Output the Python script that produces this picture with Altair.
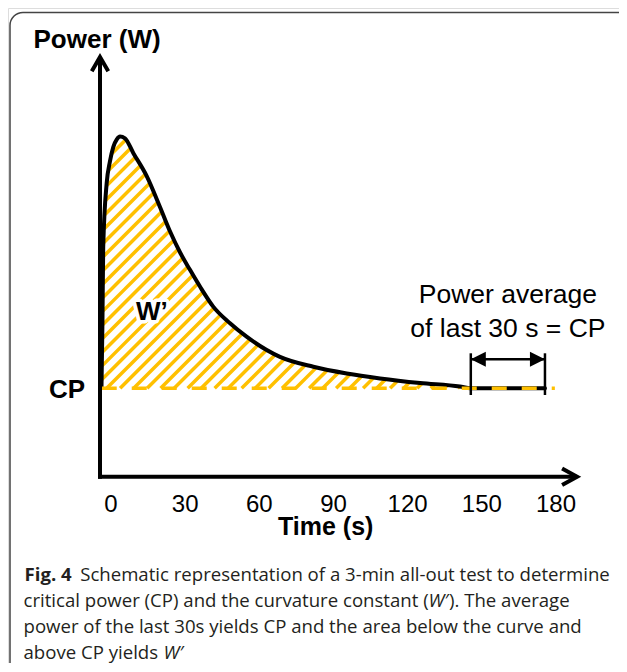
import altair as alt
import numpy as np
import pandas as pd

# ---------------- values ----------------
time_s = [0.6, 1.0, 1.3, 2.7, 4.0, 5.4, 6.8, 8.1, 10.1, 13.5, 18.9, 24.3, 28.3,
          32.4, 36.4, 40.5, 45.8, 52.6, 59.3, 72.8, 86.3, 99.8, 113.3, 129.5,
          145.6, 150.0, 165.0, 180.0]
power_w = [250, 443, 650, 830, 891, 933, 954, 962, 957, 915, 850, 762, 694,
           634, 585, 537, 481, 434, 396, 339, 311, 292, 278, 265,
           255, 250, 250, 250]
cp_w = 250
tick_s = [0, 30, 60, 90, 120, 150, 180]
window_s = [150, 180]

caption_lines = [
    "Schematic representation of a 3-min all-out test to determine",
    "critical power (CP) and the curvature constant (",
    "). The average",
    "power of the last 30s yields CP and the area below the curve and",
    "above CP yields ",
]

# ---------------- layout ----------------
W, H = 611, 655
PX_PER_S = 2.472
X0 = 92.0            # pixel of t = 0
W_PER_PX = 2.828
Y0 = 468.7           # pixel of P = 0
x_dom = [-X0 / PX_PER_S, (W - X0) / PX_PER_S]
y_dom = [(Y0 - H) * W_PER_PX, Y0 * W_PER_PX]
xs = alt.Scale(domain=x_dom, nice=False, zero=False)
ys = alt.Scale(domain=y_dom, nice=False, zero=False)

ORANGE = "#FFC000"
SANS = "Liberation Sans"
CAP_FONT = "Open Sans"
CAP_COL = "#231f20"
CAP_SIZE = 18.6

def X(f):
    return alt.X(f, type="quantitative", scale=xs, axis=None)

def Y(f):
    return alt.Y(f, type="quantitative", scale=ys, axis=None)

# ---------------- hatch segments (45 deg) clipped to the W' region ----------------
m = PX_PER_S * W_PER_PX
spacing = 13.5 / PX_PER_S
tt = np.arange(0, 181, 0.01)
ff = np.interp(tt, time_s, power_w)
segs = []
for c in np.arange(-112, 150, spacing):
    L = cp_w + m * (tt - c)
    inside = np.where((L >= cp_w) & (L <= ff))[0]
    if len(inside) < 2:
        continue
    br = np.where(np.diff(inside) > 1)[0]
    a = inside[0]
    b = inside[br[0]] if len(br) else inside[-1]
    segs.append({"t1": float(tt[a]), "p1": float(L[a]),
                 "t2": float(tt[b]), "p2": float(L[b])})
hatch_df = pd.DataFrame(segs)

curve_df = pd.DataFrame({"t": time_s, "p": power_w})

# ---------------- layers ----------------
one = pd.DataFrame({"k": [0]})

border = alt.Chart(one).mark_rect(
    filled=False, cornerRadius=13, stroke="#444", strokeWidth=1.5
).encode(x=alt.value(2), x2=alt.value(660), y=alt.value(4.5), y2=alt.value(700))

hatch = alt.Chart(hatch_df).mark_rule(color=ORANGE, strokeWidth=3.5).encode(
    x=X("t1"), y=Y("p1"), x2="t2", y2="p2")

curve = alt.Chart(curve_df).mark_line(
    color="black", strokeWidth=4, interpolate="monotone",
    strokeCap="round", strokeJoin="round").encode(x=X("t"), y=Y("p"))

cp_line = alt.Chart(pd.DataFrame({"t": [0.7], "t2": [184.0], "p": [cp_w]})).mark_rule(
    color=ORANGE, strokeWidth=3.5, strokeDash=[15, 15]).encode(
    x=X("t"), x2="t2", y=Y("p"))

x_axis = alt.Chart(pd.DataFrame({"t": [-0.8], "t2": [193.0], "p": [0]})).mark_rule(
    color="black", strokeWidth=4).encode(x=X("t"), x2="t2", y=Y("p"))
y_axis = alt.Chart(pd.DataFrame({"t": [0], "p": [-5.7], "p2": [1187]})).mark_rule(
    color="black", strokeWidth=4).encode(x=X("t"), y=Y("p"), y2="p2")

y_arrow = alt.Chart(pd.DataFrame({"t": [0], "p": [1187]})).mark_point(
    shape="M-0.55,0.95L0,0L0.55,0.95", size=900, filled=False,
    color="black", strokeWidth=4, opacity=1).encode(x=X("t"), y=Y("p"))
x_arrow = alt.Chart(pd.DataFrame({"t": [193.0], "p": [0]})).mark_point(
    shape="M-1,-0.55L0,0L-1,0.55", size=900, filled=False,
    color="black", strokeWidth=4, opacity=1).encode(x=X("t"), y=Y("p"))

win_bars = alt.Chart(pd.DataFrame({"t": window_s, "p": [231, 231], "p2": [349, 349]})).mark_rule(
    color="black", strokeWidth=2.5).encode(x=X("t"), y=Y("p"), y2="p2")
win_line = alt.Chart(pd.DataFrame({"t": [window_s[0]], "t2": [window_s[1]], "p": [332]})).mark_rule(
    color="black", strokeWidth=2.5).encode(x=X("t"), x2="t2", y=Y("p"))
tri_left = alt.Chart(pd.DataFrame({"t": [window_s[0]], "p": [332]})).mark_point(
    shape="M0,0L1,-0.5L1,0.5Z", size=900, filled=True, color="black", opacity=1
).encode(x=X("t"), y=Y("p"))
tri_right = alt.Chart(pd.DataFrame({"t": [window_s[1]], "p": [332]})).mark_point(
    shape="M0,0L-1,-0.5L-1,0.5Z", size=900, filled=True, color="black", opacity=1
).encode(x=X("t"), y=Y("p"))

ticks = alt.Chart(pd.DataFrame({"t": tick_s, "p": [0] * len(tick_s),
                                "s": [str(v) for v in tick_s]})).mark_text(
    font=SANS, fontSize=24, dx=11, dy=35, baseline="alphabetic", align="center",
    color="black").encode(x=X("t"), y=Y("p"), text="s:N")

x_title = alt.Chart(pd.DataFrame({"t": [91.3], "p": [0], "s": ["Time (s)"]})).mark_text(
    font=SANS, fontSize=25, fontWeight="bold", dy=58.5, baseline="alphabetic",
    align="center", color="black").encode(x=X("t"), y=Y("p"), text="s:N")

y_title = alt.Chart(pd.DataFrame({"t": [-26.9], "p": [1211], "s": ["Power (W)"]})).mark_text(
    font=SANS, fontSize=26, fontWeight="bold", baseline="alphabetic",
    align="left", color="black").encode(x=X("t"), y=Y("p"), text="s:N")

cp_label = alt.Chart(pd.DataFrame({"t": [0], "p": [cp_w], "s": ["CP"]})).mark_text(
    font=SANS, fontSize=26, fontWeight="bold", dx=-15, dy=10, baseline="alphabetic",
    align="right", color="black").encode(x=X("t"), y=Y("p"), text="s:N")

wp_df = pd.DataFrame({"t": [21.0], "p": [443], "s": ["W\u2019"]})
wp_halo = alt.Chart(wp_df).mark_text(
    font=SANS, fontSize=26, fontWeight="bold", baseline="alphabetic", align="center",
    color="white", stroke="white", strokeWidth=7, strokeJoin="round"
).encode(x=X("t"), y=Y("p"), text="s:N")
wp_text = alt.Chart(wp_df).mark_text(
    font=SANS, fontSize=26, fontWeight="bold", baseline="alphabetic", align="center",
    color="black").encode(x=X("t"), y=Y("p"), text="s:N")

avg_text = alt.Chart(pd.DataFrame({
    "t": [165, 165], "p": [490, 396],
    "s": ["Power average", "of last 30 s = CP"]})).mark_text(
    font=SANS, fontSize=26.5, baseline="alphabetic", align="center", color="black"
).encode(x=X("t"), y=Y("p"), text="s:N")

# ---------------- caption ----------------
def cap(txt, x, y, weight="normal", style="normal"):
    return alt.Chart(pd.DataFrame({"s": [txt]})).mark_text(
        font=CAP_FONT, fontSize=CAP_SIZE, fontWeight=weight, fontStyle=style,
        align="left", baseline="alphabetic", color=CAP_COL
    ).encode(x=alt.value(x), y=alt.value(y), text="s:N")

cap_layers = [
    cap("Fig. 4", 16.5, 572.7, weight="bold"),
    cap(caption_lines[0], 72.2, 572.7),
    cap(caption_lines[1], 15.5, 598.7),
    cap("W\u2032", 420.5, 598.7, style="italic"),
    cap(caption_lines[2], 441.0, 598.7),
    cap(caption_lines[3], 15.5, 625.2),
    cap(caption_lines[4], 15.5, 650.5),
    cap("W\u2032", 155.5, 650.5, style="italic"),
]

chart = alt.layer(
    border, hatch, curve, cp_line, x_axis, y_axis, y_arrow, x_arrow,
    win_bars, win_line, tri_left, tri_right, ticks, x_title, y_title,
    cp_label, wp_halo, wp_text, avg_text, *cap_layers
).properties(
    width=W, height=H, padding=0,
    autosize=alt.AutoSizeParams(type="none")
).configure_view(stroke="transparent").configure(background="white")

chart.save("out.html", embed_options={"renderer": "svg", "actions": False})
